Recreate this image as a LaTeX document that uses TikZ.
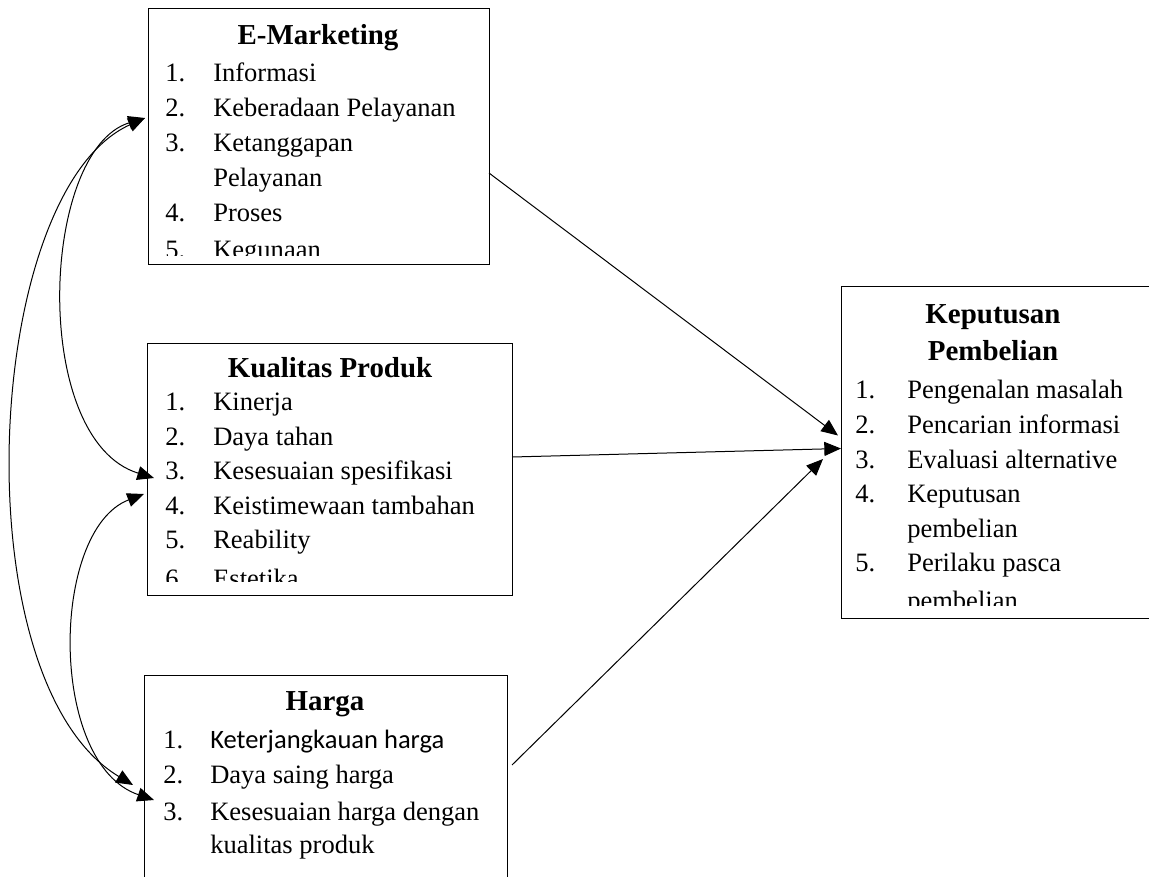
\documentclass[tikz,border=0pt]{standalone}
\usepackage{fontspec}
\setmainfont{Liberation Serif}
\newfontfamily\calibrifont{Carlito}
\usetikzlibrary{arrows.meta,calc}
\begin{document}
\begin{tikzpicture}[x=0.75pt,y=-0.75pt,
  box/.style={draw, line width=0.75pt, inner sep=0pt, outer sep=0pt, anchor=north west},
  ttl/.style={font=\fontsize{21.7}{26}\selectfont\bfseries, inner sep=0pt, anchor=base},
  itm/.style={font=\fontsize{19.9}{24}\selectfont, inner sep=0pt, anchor=base west},
  con/.style={line width=0.75pt},
  tip/.style={-{Triangle[length=12.5pt,width=10.5pt]}},
  both/.style={{Triangle[length=12.5pt,width=10.5pt]}-{Triangle[length=12.5pt,width=10.5pt]}}
]
\clip (0,0) rectangle (1149,877);
\fill[white] (0,0) rectangle (1149,877);

% boxes
\node[box, minimum width=341*0.75pt, minimum height=256*0.75pt] (em) at (148,9) {};
\node[box, minimum width=365*0.75pt, minimum height=252*0.75pt] (kp) at (147,343) {};
\node[box, minimum width=363*0.75pt, minimum height=260*0.75pt] (hg) at (144,675) {};
\node[box, minimum width=330*0.75pt, minimum height=331*0.75pt] (kep) at (841,287) {};

% E-Marketing text
\begin{scope}
\clip (148,9) rectangle (489,256);
\node[ttl] (emT) at (318,45) {E-Marketing};
\node[itm] (em1n) at (165,82) {1.};  \node[itm] (em1) at (213,82) {Informasi};
\node[itm] (em2n) at (165,117) {2.}; \node[itm] (em2) at (213,117) {Keberadaan Pelayanan};
\node[itm] (em3n) at (165,152) {3.}; \node[itm] (em3) at (213,152) {Ketanggapan};
\node[itm] (em3b) at (213,187) {Pelayanan};
\node[itm] (em4n) at (165,222) {4.}; \node[itm] (em4) at (213,222) {Proses};
\node[itm] (em5n) at (165,258) {5.}; \node[itm] (em5) at (213,258) {Kegunaan};
\end{scope}

% Kualitas Produk text
\begin{scope}
\clip (147,343) rectangle (512,581);
\node[ttl] (kpT) at (330,377) {Kualitas Produk};
\node[itm] (kp1n) at (165,410) {1.}; \node[itm] (kp1) at (213,410) {Kinerja};
\node[itm] (kp2n) at (165,445) {2.}; \node[itm] (kp2) at (213,445) {Daya tahan};
\node[itm] (kp3n) at (165,479) {3.}; \node[itm] (kp3) at (213,479) {Kesesuaian spesifikasi};
\node[itm] (kp4n) at (165,514) {4.}; \node[itm] (kp4) at (213,514) {Keistimewaan tambahan};
\node[itm] (kp5n) at (165,548) {5.}; \node[itm] (kp5) at (213,548) {Reability};
\node[itm] (kp6n) at (165,587) {6.}; \node[itm] (kp6) at (213,587) {Estetika};
\end{scope}

% Harga text
\node[ttl] (hgT) at (325,710) {Harga};
\node[itm] (hg1n) at (163,748) {1.}; \node[itm] (hg1) at (210,748) {\calibrifont Keterjangkauan harga};
\node[itm] (hg2n) at (163,783) {2.}; \node[itm] (hg2) at (210,783) {Daya saing harga};
\node[itm] (hg3n) at (163,820) {3.}; \node[itm] (hg3) at (210,820) {Kesesuaian harga dengan};
\node[itm] (hg3b) at (210,853) {kualitas produk};

% Keputusan Pembelian text
\begin{scope}
\clip (841,287) rectangle (1149,605);
\node[ttl] (kepT1) at (993,323) {Keputusan};
\node[ttl] (kepT2) at (993,360) {Pembelian};
\node[itm] (kep1n) at (855,398) {1.}; \node[itm] (kep1) at (907,398) {Pengenalan masalah};
\node[itm] (kep2n) at (855,433) {2.}; \node[itm] (kep2) at (907,433) {Pencarian informasi};
\node[itm] (kep3n) at (855,468) {3.}; \node[itm] (kep3) at (907,468) {Evaluasi alternative};
\node[itm] (kep4n) at (855,502) {4.}; \node[itm] (kep4) at (907,502) {Keputusan};
\node[itm] (kep4b) at (907,537) {pembelian};
\node[itm] (kep5n) at (855,571) {5.}; \node[itm] (kep5) at (907,571) {Perilaku pasca};
\node[itm] (kep5b) at (907,609) {pembelian};
\end{scope}

% connector end points
\coordinate (emR) at ($(em.east)+(0,36)$);
\coordinate (kepA) at ($(kep.west)+(-3,-17)$);
\coordinate (kpR) at ($(kp.east)+(0,-12)$);
\coordinate (kepB) at ($(kep.west)+(0,-4)$);
\coordinate (hgR) at ($(hg.east)+(5,-40)$);
\coordinate (kepC) at ($(kep.west)+(-18,6.5)$);
\coordinate (emL) at ($(em.west)+(-3,-19)$);
\coordinate (kpL1) at ($(kp.west)+(7,9)$);
\coordinate (kpL2) at ($(kp.west)+(-3,25)$);
\coordinate (hgL1) at ($(hg.west)+(-11,-20)$);
\coordinate (hgL2) at ($(hg.west)+(10,-5)$);

% straight arrows
\draw[con,tip] (emR) -- (kepA);
\draw[con,tip] (kpR) -- (kepB);
\draw[con,tip] (hgR) -- (kepC);

% curved double arrows
\draw[con,both] (emL) .. controls (40,150) and (30,440) .. (kpL1);
\draw[con,both] (emL) .. controls (-17.5,191) and (-40.5,681) .. (hgL1);
\draw[con,both] (kpL2) .. controls (50,530) and (48,764) .. (hgL2);
\end{tikzpicture}
\end{document}
